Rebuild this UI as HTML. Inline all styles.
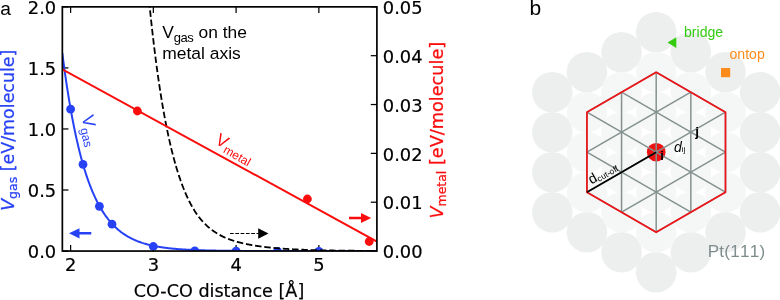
<!DOCTYPE html>
<html><head><meta charset="utf-8"><title>figure</title>
<style>
html,body{margin:0;padding:0;background:#fff;}
body{width:780px;height:300px;overflow:hidden;}
svg{display:block;}
.dv{font-family:"DejaVu Sans","Liberation Sans",sans-serif;font-size:17.1px;fill:#000;stroke:#000;stroke-width:0.2px;}
.dvl{font-family:"DejaVu Sans","Liberation Sans",sans-serif;font-size:16.5px;}
.ar{font-family:"Liberation Sans",Arial,Helvetica,sans-serif;}
</style></head><body>
<svg width="780" height="300" viewBox="0 0 780 300">
<rect width="780" height="300" fill="#fff"/>
<defs><clipPath id="ax"><rect x="62.35" y="6.85" width="314.54999999999995" height="244.20000000000002"/></clipPath></defs>
<line x1="70.6" y1="251.05" x2="70.6" y2="244.95000000000002" stroke="#000" stroke-width="1.25"/>
<line x1="70.6" y1="6.85" x2="70.6" y2="12.95" stroke="#000" stroke-width="1.25"/>
<text transform="translate(70.6,270.8) scale(1.045,1)" class="dv" text-anchor="middle">2</text>
<line x1="153.35" y1="251.05" x2="153.35" y2="244.95000000000002" stroke="#000" stroke-width="1.25"/>
<line x1="153.35" y1="6.85" x2="153.35" y2="12.95" stroke="#000" stroke-width="1.25"/>
<text transform="translate(153.35,270.8) scale(1.045,1)" class="dv" text-anchor="middle">3</text>
<line x1="236.1" y1="251.05" x2="236.1" y2="244.95000000000002" stroke="#000" stroke-width="1.25"/>
<line x1="236.1" y1="6.85" x2="236.1" y2="12.95" stroke="#000" stroke-width="1.25"/>
<text transform="translate(236.1,270.8) scale(1.045,1)" class="dv" text-anchor="middle">4</text>
<line x1="318.85" y1="251.05" x2="318.85" y2="244.95000000000002" stroke="#000" stroke-width="1.25"/>
<line x1="318.85" y1="6.85" x2="318.85" y2="12.95" stroke="#000" stroke-width="1.25"/>
<text transform="translate(318.85,270.8) scale(1.045,1)" class="dv" text-anchor="middle">5</text>
<line x1="62.35" y1="251.05" x2="68.45" y2="251.05" stroke="#000" stroke-width="1.25"/>
<text transform="translate(56.2,258.25) scale(1.045,1)" class="dv" text-anchor="end">0.0</text>
<line x1="62.35" y1="190.00" x2="68.45" y2="190.00" stroke="#000" stroke-width="1.25"/>
<text transform="translate(56.2,197.20) scale(1.045,1)" class="dv" text-anchor="end">0.5</text>
<line x1="62.35" y1="128.95" x2="68.45" y2="128.95" stroke="#000" stroke-width="1.25"/>
<text transform="translate(56.2,136.15) scale(1.045,1)" class="dv" text-anchor="end">1.0</text>
<line x1="62.35" y1="67.90" x2="68.45" y2="67.90" stroke="#000" stroke-width="1.25"/>
<text transform="translate(56.2,75.10) scale(1.045,1)" class="dv" text-anchor="end">1.5</text>
<line x1="62.35" y1="6.85" x2="68.45" y2="6.85" stroke="#000" stroke-width="1.25"/>
<text transform="translate(56.2,14.05) scale(1.045,1)" class="dv" text-anchor="end">2.0</text>
<line x1="376.9" y1="251.05" x2="370.79999999999995" y2="251.05" stroke="#000" stroke-width="1.25"/>
<text transform="translate(382.8,258.25) scale(1.045,1)" class="dv" text-anchor="start">0.00</text>
<line x1="376.9" y1="202.21" x2="370.79999999999995" y2="202.21" stroke="#000" stroke-width="1.25"/>
<text transform="translate(382.8,209.41) scale(1.045,1)" class="dv" text-anchor="start">0.01</text>
<line x1="376.9" y1="153.37" x2="370.79999999999995" y2="153.37" stroke="#000" stroke-width="1.25"/>
<text transform="translate(382.8,160.57) scale(1.045,1)" class="dv" text-anchor="start">0.02</text>
<line x1="376.9" y1="104.53" x2="370.79999999999995" y2="104.53" stroke="#000" stroke-width="1.25"/>
<text transform="translate(382.8,111.73) scale(1.045,1)" class="dv" text-anchor="start">0.03</text>
<line x1="376.9" y1="55.69" x2="370.79999999999995" y2="55.69" stroke="#000" stroke-width="1.25"/>
<text transform="translate(382.8,62.89) scale(1.045,1)" class="dv" text-anchor="start">0.04</text>
<line x1="376.9" y1="6.85" x2="370.79999999999995" y2="6.85" stroke="#000" stroke-width="1.25"/>
<text transform="translate(382.8,14.05) scale(1.045,1)" class="dv" text-anchor="start">0.05</text>
<g clip-path="url(#ax)">
<polyline points="62.32,53.19 63.12,59.33 63.91,65.28 64.70,71.04 65.49,76.62 66.28,82.04 67.07,87.28 67.86,92.36 68.65,97.28 69.44,102.05 70.23,106.68 71.02,111.15 71.81,115.49 72.60,119.70 73.39,123.77 74.18,127.72 74.97,131.55 75.76,135.26 76.55,138.85 77.34,142.33 78.13,145.70 78.92,148.97 79.71,152.14 80.50,155.21 81.29,158.18 82.08,161.06 82.87,163.85 83.66,166.56 84.45,169.18 85.24,171.72 86.03,174.18 86.82,176.57 87.61,178.88 88.40,181.11 89.19,183.28 89.98,185.39 90.77,187.42 91.56,189.40 92.35,191.31 93.15,193.16 93.94,194.96 94.73,196.70 95.52,198.39 96.31,200.02 97.10,201.60 97.89,203.14 98.68,204.62 99.47,206.06 100.26,207.46 101.05,208.81 101.84,210.12 102.63,211.39 103.42,212.62 104.21,213.81 105.00,214.97 105.79,216.09 106.58,217.17 107.37,218.22 108.16,219.24 108.95,220.23 109.74,221.19 110.53,222.11 111.32,223.01 112.11,223.88 112.90,224.72 113.69,225.54 114.48,226.33 115.27,227.10 116.06,227.84 116.85,228.56 117.64,229.26 118.43,229.93 119.22,230.59 120.01,231.22 120.80,231.84 121.59,232.44 122.38,233.01 123.18,233.57 123.97,234.11 124.76,234.64 125.55,235.15 126.34,235.64 127.13,236.12 127.92,236.58 128.71,237.03 129.50,237.47 130.29,237.89 131.08,238.30 131.87,238.69 132.66,239.08 133.45,239.45 134.24,239.81 135.03,240.16 135.82,240.49 136.61,240.82 137.40,241.14 138.19,241.45 138.98,241.74 139.77,242.03 140.56,242.31 141.35,242.58 142.14,242.85 142.93,243.10 143.72,243.35 144.51,243.59 145.30,243.82 146.09,244.04 146.88,244.26 147.67,244.47 148.46,244.67 149.25,244.87 150.04,245.06 150.83,245.25 151.62,245.43 152.41,245.60 153.21,245.77 154.00,245.94 154.79,246.10 155.58,246.25 156.37,246.40 157.16,246.54 157.95,246.68 158.74,246.82 159.53,246.95 160.32,247.08 161.11,247.20 161.90,247.32 162.69,247.43 163.48,247.55 164.27,247.66 165.06,247.76 165.85,247.86 166.64,247.96 167.43,248.06 168.22,248.15 169.01,248.24 169.80,248.33 170.59,248.41 171.38,248.49 172.17,248.57 172.96,248.65 173.75,248.72 174.54,248.80 175.33,248.87 176.12,248.93 176.91,249.00 177.70,249.06 178.49,249.13 179.28,249.18 180.07,249.24 180.86,249.30 181.65,249.35 182.44,249.41 183.24,249.46 184.03,249.51 184.82,249.55 185.61,249.60 186.40,249.65 187.19,249.69 187.98,249.73 188.77,249.77 189.56,249.81 190.35,249.85 191.14,249.89 191.93,249.92 192.72,249.96 193.51,249.99 194.30,250.03 195.09,250.06 195.88,250.09 196.67,250.12 197.46,250.15 198.25,250.17 199.04,250.20 199.83,250.23 200.62,250.25 201.41,250.28 202.20,250.30 202.99,250.33 203.78,250.35 204.57,250.37 205.36,250.39 206.15,250.41 206.94,250.43 207.73,250.45 208.52,250.47 209.31,250.49 210.10,250.50 210.89,250.52 211.68,250.54 212.47,250.55 213.27,250.57 214.06,250.58 214.85,250.60 215.64,250.61 216.43,250.63 217.22,250.64 218.01,250.65 218.80,250.66 219.59,250.68 220.38,250.69 221.17,250.70 221.96,250.71 222.75,250.72 223.54,250.73 224.33,250.74 225.12,250.75 225.91,250.76 226.70,250.77 227.49,250.78 228.28,250.79 229.07,250.79 229.86,250.80 230.65,250.81 231.44,250.82 232.23,250.82 233.02,250.83 233.81,250.84 234.60,250.84 235.39,250.85 236.18,250.86 236.97,250.86 237.76,250.87 238.55,250.87 239.34,250.88 240.13,250.89 240.92,250.89 241.71,250.90 242.50,250.90 243.30,250.90 244.09,250.91 244.88,250.91 245.67,250.92 246.46,250.92 247.25,250.93 248.04,250.93 248.83,250.93 249.62,250.94 250.41,250.94 251.20,250.94 251.99,250.95 252.78,250.95 253.57,250.95 254.36,250.96 255.15,250.96 255.94,250.96 256.73,250.97 257.52,250.97 258.31,250.97 259.10,250.97 259.89,250.98 260.68,250.98 261.47,250.98 262.26,250.98 263.05,250.98 263.84,250.99 264.63,250.99 265.42,250.99 266.21,250.99 267.00,250.99 267.79,251.00 268.58,251.00 269.37,251.00 270.16,251.00 270.95,251.00 271.74,251.00 272.53,251.00 273.33,251.01 274.12,251.01 274.91,251.01 275.70,251.01 276.49,251.01 277.28,251.01 278.07,251.01 278.86,251.01 279.65,251.02 280.44,251.02 281.23,251.02 282.02,251.02 282.81,251.02 283.60,251.02 284.39,251.02 285.18,251.02 285.97,251.02 286.76,251.02 287.55,251.03 288.34,251.03 289.13,251.03 289.92,251.03 290.71,251.03 291.50,251.03 292.29,251.03 293.08,251.03 293.87,251.03 294.66,251.03 295.45,251.03 296.24,251.03 297.03,251.03 297.82,251.03 298.61,251.03 299.40,251.03 300.19,251.03 300.98,251.04 301.77,251.04 302.56,251.04 303.36,251.04 304.15,251.04 304.94,251.04 305.73,251.04 306.52,251.04 307.31,251.04 308.10,251.04 308.89,251.04 309.68,251.04 310.47,251.04 311.26,251.04 312.05,251.04 312.84,251.04 313.63,251.04 314.42,251.04 315.21,251.04 316.00,251.04 316.79,251.04 317.58,251.04 318.37,251.04 319.16,251.04 319.95,251.04 320.74,251.04 321.53,251.04 322.32,251.04 323.11,251.04 323.90,251.04 324.69,251.04 325.48,251.04 326.27,251.04 327.06,251.04 327.85,251.05 328.64,251.05 329.43,251.05 330.22,251.05 331.01,251.05 331.80,251.05 332.59,251.05 333.39,251.05 334.18,251.05 334.97,251.05 335.76,251.05 336.55,251.05 337.34,251.05 338.13,251.05 338.92,251.05 339.71,251.05 340.50,251.05 341.29,251.05 342.08,251.05 342.87,251.05 343.66,251.05 344.45,251.05 345.24,251.05 346.03,251.05 346.82,251.05 347.61,251.05 348.40,251.05 349.19,251.05 349.98,251.05 350.77,251.05 351.56,251.05 352.35,251.05 353.14,251.05 353.93,251.05 354.72,251.05 355.51,251.05 356.30,251.05 357.09,251.05 357.88,251.05 358.67,251.05 359.46,251.05 360.25,251.05 361.04,251.05 361.83,251.05 362.62,251.05 363.42,251.05 364.21,251.05 365.00,251.05 365.79,251.05 366.58,251.05 367.37,251.05 368.16,251.05 368.95,251.05 369.74,251.05 370.53,251.05 371.32,251.05 372.11,251.05 372.90,251.05 373.69,251.05 374.48,251.05 375.27,251.05 376.06,251.05 376.85,251.05 377.64,251.05 378.43,251.05" fill="none" stroke="#2742f5" stroke-width="2" stroke-linejoin="round"/>
<circle cx="70.6" cy="109.2" r="4.4" fill="#2742f5"/>
<circle cx="83" cy="164.4" r="4.4" fill="#2742f5"/>
<circle cx="99.4" cy="206.3" r="4.4" fill="#2742f5"/>
<circle cx="112" cy="224.2" r="4.4" fill="#2742f5"/>
<circle cx="153.3" cy="246.5" r="4.4" fill="#2742f5"/>
<circle cx="194.8" cy="250.8" r="4.4" fill="#2742f5"/>
<circle cx="236.1" cy="251.2" r="4.4" fill="#2742f5"/>
<circle cx="277.5" cy="251.4" r="4.4" fill="#2742f5"/>
<circle cx="318.9" cy="251.4" r="4.4" fill="#2742f5"/>
<polyline points="146.50,-26.68 147.00,-21.15 147.50,-15.73 148.00,-10.43 148.50,-5.22 149.00,-0.12 149.50,4.88 150.00,9.77 150.50,14.58 151.00,19.28 151.50,23.89 152.00,28.41 152.50,32.84 153.00,37.19 153.50,41.44 154.00,45.61 154.50,49.70 155.00,53.71 155.50,57.63 156.00,61.48 156.50,65.26 157.00,68.95 157.50,72.58 158.00,76.13 158.50,79.61 159.00,83.02 159.50,86.36 160.00,89.64 160.50,92.85 161.00,96.00 161.50,99.09 162.00,102.11 162.50,105.07 163.00,107.98 163.50,110.83 164.00,113.62 164.50,116.35 165.00,119.03 165.50,121.66 166.00,124.23 166.50,126.76 167.00,129.23 167.50,131.65 168.00,134.03 168.50,136.36 169.00,138.64 169.50,140.88 170.00,143.07 170.50,145.22 171.00,147.33 171.50,149.39 172.00,151.41 172.50,153.40 173.00,155.34 173.50,157.24 174.00,159.11 174.50,160.94 175.00,162.73 175.50,164.49 176.00,166.21 176.50,167.90 177.00,169.56 177.50,171.18 178.00,172.77 178.50,174.32 179.00,175.85 179.50,177.35 180.00,178.81 180.50,180.25 181.00,181.66 181.50,183.04 182.00,184.39 182.50,185.72 183.00,187.02 183.50,188.29 184.00,189.54 184.50,190.77 185.00,191.97 185.50,193.14 186.00,194.30 186.50,195.42 187.00,196.53 187.50,197.62 188.00,198.68 188.50,199.72 189.00,200.74 189.50,201.74 190.00,202.72 190.50,203.68 191.00,204.62 191.50,205.54 192.00,206.43 192.50,207.31 193.00,208.17 193.50,209.00 194.00,209.82 194.50,210.62 195.00,211.41 195.50,212.17 196.00,212.92 196.50,213.65 197.00,214.37 197.50,215.07 198.00,215.76 198.50,216.43 199.00,217.09 199.50,217.73 200.00,218.36 200.50,218.97 201.00,219.57 201.50,220.16 202.00,220.74 202.50,221.30 203.00,221.85 203.50,222.39 204.00,222.92 204.50,223.44 205.00,223.94 205.50,224.44 206.00,224.92 206.50,225.40 207.00,225.86 207.50,226.32 208.00,226.77 208.50,227.20 209.00,227.63 209.50,228.05 210.00,228.46 210.50,228.86 211.00,229.25 211.50,229.64 212.00,230.01 212.50,230.38 213.00,230.74 213.50,231.10 214.00,231.45 214.50,231.79 215.00,232.12 215.50,232.45 216.00,232.77 216.50,233.08 217.00,233.39 217.50,233.69 218.00,233.98 218.50,234.27 219.00,234.55 219.50,234.83 220.00,235.10 220.50,235.37 221.00,235.63 221.50,235.89 222.00,236.14 222.50,236.38 223.00,236.63 223.50,236.86 224.00,237.09 224.50,237.32 225.00,237.55 225.50,237.76 226.00,237.98 226.50,238.19 227.00,238.40 227.50,238.60 228.00,238.80 228.50,238.99 229.00,239.18 229.50,239.37 230.00,239.55 230.50,239.73 231.00,239.91 231.50,240.08 232.00,240.25 232.50,240.42 233.00,240.58 233.50,240.75 234.00,240.90 234.50,241.06 235.00,241.21 235.50,241.36 236.00,241.51 236.50,241.65 237.00,241.79 237.50,241.93 238.00,242.06 238.50,242.20 239.00,242.33 239.50,242.46 240.00,242.58 240.50,242.71 241.00,242.83 241.50,242.95 242.00,243.07 242.50,243.19 243.00,243.30 243.50,243.42 244.00,243.53 244.50,243.64 245.00,243.75 245.50,243.86 246.00,243.96 246.50,244.07 247.00,244.17 247.50,244.27 248.00,244.37 248.50,244.47 249.00,244.56 249.50,244.66 250.00,244.75 250.50,244.85 251.00,244.94 251.50,245.03 252.00,245.11 252.50,245.20 253.00,245.29 253.50,245.37 254.00,245.46 254.50,245.54 255.00,245.62 255.50,245.70 256.00,245.78 256.50,245.85 257.00,245.93 257.50,246.01 258.00,246.08 258.50,246.15 259.00,246.23 259.50,246.30 260.00,246.37 260.50,246.43 261.00,246.50 261.50,246.57 262.00,246.64 262.50,246.70 263.00,246.76 263.50,246.83 264.00,246.89 264.50,246.95 265.00,247.01 265.50,247.07 266.00,247.13 266.50,247.19 267.00,247.24 267.50,247.30 268.00,247.35 268.50,247.41 269.00,247.46 269.50,247.51 270.00,247.57 270.50,247.62 271.00,247.67 271.50,247.72 272.00,247.77 272.50,247.81 273.00,247.86 273.50,247.91 274.00,247.96 274.50,248.00 275.00,248.05 275.50,248.09 276.00,248.13 276.50,248.18 277.00,248.22 277.50,248.26 278.00,248.30 278.50,248.34 279.00,248.38 279.50,248.42 280.00,248.46 280.50,248.50 281.00,248.53 281.50,248.57 282.00,248.61 282.50,248.64 283.00,248.68 283.50,248.71 284.00,248.75 284.50,248.78 285.00,248.82 285.50,248.85 286.00,248.88 286.50,248.91 287.00,248.94 287.50,248.97 288.00,249.01 288.50,249.04 289.00,249.06 289.50,249.09 290.00,249.12 290.50,249.15 291.00,249.18 291.50,249.21 292.00,249.23 292.50,249.26 293.00,249.29 293.50,249.31 294.00,249.34 294.50,249.36 295.00,249.39 295.50,249.41 296.00,249.44 296.50,249.46 297.00,249.48 297.50,249.51 298.00,249.53 298.50,249.55 299.00,249.57 299.50,249.60 300.00,249.62 300.50,249.64 301.00,249.66 301.50,249.68 302.00,249.70 302.50,249.72 303.00,249.74 303.50,249.76 304.00,249.78 304.50,249.80 305.00,249.81 305.50,249.83 306.00,249.85 306.50,249.87 307.00,249.88 307.50,249.90 308.00,249.92 308.50,249.94 309.00,249.95 309.50,249.97 310.00,249.98 310.50,250.00 311.00,250.01 311.50,250.03 312.00,250.05 312.50,250.06 313.00,250.07 313.50,250.09 314.00,250.10 314.50,250.12 315.00,250.13 315.50,250.14 316.00,250.16 316.50,250.17 317.00,250.18 317.50,250.20 318.00,250.21 318.50,250.22 319.00,250.23 319.50,250.25 320.00,250.26 320.50,250.27 321.00,250.28 321.50,250.29 322.00,250.30 322.50,250.31 323.00,250.32 323.50,250.34 324.00,250.35 324.50,250.36 325.00,250.37 325.50,250.38 326.00,250.39 326.50,250.40 327.00,250.41 327.50,250.41 328.00,250.42 328.50,250.43 329.00,250.44 329.50,250.45 330.00,250.46 330.50,250.47 331.00,250.48 331.50,250.49 332.00,250.49 332.50,250.50 333.00,250.51 333.50,250.52 334.00,250.53 334.50,250.53 335.00,250.54 335.50,250.55 336.00,250.56 336.50,250.56 337.00,250.57 337.50,250.58 338.00,250.58 338.50,250.59 339.00,250.60 339.50,250.60 340.00,250.61 340.50,250.62 341.00,250.62 341.50,250.63 342.00,250.64 342.50,250.64 343.00,250.65 343.50,250.65 344.00,250.66 344.50,250.67 345.00,250.67 345.50,250.68 346.00,250.68 346.50,250.69 347.00,250.69 347.50,250.70 348.00,250.70 348.50,250.71 349.00,250.71 349.50,250.72 350.00,250.72 350.50,250.73 351.00,250.73 351.50,250.74 352.00,250.74 352.50,250.75 353.00,250.75 353.50,250.76 354.00,250.76 354.50,250.76 355.00,250.77 355.50,250.77 356.00,250.78 356.50,250.78 357.00,250.78 357.50,250.79 358.00,250.79 358.50,250.80 359.00,250.80 359.50,250.80 360.00,250.81 360.50,250.81 361.00,250.81 361.50,250.82 362.00,250.82 362.50,250.82 363.00,250.83 363.50,250.83 364.00,250.83 364.50,250.84 365.00,250.84 365.50,250.84 366.00,250.85 366.50,250.85 367.00,250.85 367.50,250.86 368.00,250.86 368.50,250.86 369.00,250.86 369.50,250.87 370.00,250.87 370.50,250.87 371.00,250.87 371.50,250.88 372.00,250.88 372.50,250.88 373.00,250.88 373.50,250.89 374.00,250.89 374.50,250.89 375.00,250.89 375.50,250.90 376.00,250.90 376.50,250.90 377.00,250.90 377.50,250.91 378.00,250.91 378.50,250.91 379.00,250.91 379.50,250.91" fill="none" stroke="#000" stroke-width="1.8" stroke-dasharray="6.5 2.8" stroke-linejoin="round"/>
<line x1="62.35" y1="69.3" x2="376.9" y2="241.5" stroke="#fb0d0d" stroke-width="2"/>
<circle cx="137.4" cy="111" r="4.4" fill="#fb0d0d"/>
<circle cx="307.4" cy="199" r="4.4" fill="#fb0d0d"/>
<circle cx="369.2" cy="241.5" r="4.4" fill="#fb0d0d"/>
</g>
<rect x="62.35" y="6.85" width="314.54999999999995" height="244.20000000000002" fill="none" stroke="#000" stroke-width="1.7"/>
<text transform="translate(219,297.3) scale(1.017,1)" class="dvl" style="font-size:17.3px;stroke:#000;stroke-width:0.2px" text-anchor="middle">CO-CO distance [Å]</text>
<text transform="translate(13.5,130.2) rotate(-90) scale(1,1.02)" class="dvl" style="font-size:17.46px;stroke:#2742f5;stroke-width:0.25px" text-anchor="middle" fill="#2742f5"><tspan font-style="italic">V</tspan><tspan font-size="12.5" dy="3.3">gas</tspan><tspan dy="-3.3"> [eV/molecule]</tspan></text>
<text transform="translate(442.6,130.2) rotate(-90) scale(1,1.02)" class="dvl" style="font-size:17.7px;stroke:#fb0d0d;stroke-width:0.25px" text-anchor="middle" fill="#fb0d0d"><tspan font-style="italic">V</tspan><tspan font-size="12.5" dy="3.3">metal</tspan><tspan dy="-3.3"> [eV/molecule]</tspan></text>
<text x="0.2" y="14.8" class="ar" font-size="19.2">a</text>
<text x="529.4" y="14.8" class="ar" font-size="21">b</text>
<text transform="translate(162.2,37.5) scale(1.068,1)" class="ar" font-size="16.3">V<tspan font-size="12.2" dy="4.3" style="letter-spacing:-0.45px">gas</tspan><tspan dy="-4.3" dx="0.3"> on the</tspan></text>
<text transform="translate(162.2,59.1) scale(1.072,1)" class="ar" font-size="16.3">metal axis</text>
<text transform="translate(81.4,116.8) rotate(77)" class="ar" font-size="17.6" fill="#2742f5"><tspan>V</tspan><tspan font-size="12" dy="3.8">gas</tspan></text>
<text transform="translate(214.3,142.9) rotate(30)" class="ar" font-size="17.4" fill="#fb0d0d"><tspan>V</tspan><tspan font-size="12" dy="3.8">metal</tspan></text>
<path d="M69 233.3 L79.5 228.3 V232 H91.3 V234.6 H79.5 V238.5 Z" fill="#2742f5"/>
<path d="M371.2 218 L361 213 V216.7 H349 V219.3 H361 V223 Z" fill="#fb0d0d"/>
<line x1="230" y1="233.5" x2="258.5" y2="233.5" stroke="#000" stroke-width="1.2" stroke-dasharray="3.7 1.6"/>
<path d="M268.5 233.5 L258.2 228.3 V238.7 Z" fill="#000"/>
<circle cx="552.28" cy="92.20" r="20.3" fill="#edefee"/>
<circle cx="552.28" cy="132.20" r="20.3" fill="#edefee"/>
<circle cx="552.28" cy="172.20" r="20.3" fill="#edefee"/>
<circle cx="552.28" cy="212.20" r="20.3" fill="#edefee"/>
<circle cx="586.92" cy="72.20" r="20.3" fill="#edefee"/>
<circle cx="586.92" cy="232.20" r="20.3" fill="#edefee"/>
<circle cx="621.56" cy="52.20" r="20.3" fill="#edefee"/>
<circle cx="621.56" cy="252.20" r="20.3" fill="#edefee"/>
<circle cx="656.20" cy="32.20" r="20.3" fill="#edefee"/>
<circle cx="656.20" cy="272.20" r="20.3" fill="#edefee"/>
<circle cx="690.84" cy="52.20" r="20.3" fill="#edefee"/>
<circle cx="690.84" cy="252.20" r="20.3" fill="#edefee"/>
<circle cx="725.48" cy="72.20" r="20.3" fill="#edefee"/>
<circle cx="725.48" cy="232.20" r="20.3" fill="#edefee"/>
<circle cx="760.12" cy="92.20" r="20.3" fill="#edefee"/>
<circle cx="760.12" cy="132.20" r="20.3" fill="#edefee"/>
<circle cx="760.12" cy="172.20" r="20.3" fill="#edefee"/>
<circle cx="760.12" cy="212.20" r="20.3" fill="#edefee"/>
<circle cx="586.92" cy="112.20" r="20.3" fill="#f5f6f6"/>
<circle cx="586.92" cy="152.20" r="20.3" fill="#f5f6f6"/>
<circle cx="586.92" cy="192.20" r="20.3" fill="#f5f6f6"/>
<circle cx="621.56" cy="92.20" r="20.3" fill="#f5f6f6"/>
<circle cx="621.56" cy="212.20" r="20.3" fill="#f5f6f6"/>
<circle cx="656.20" cy="72.20" r="20.3" fill="#f5f6f6"/>
<circle cx="656.20" cy="232.20" r="20.3" fill="#f5f6f6"/>
<circle cx="690.84" cy="92.20" r="20.3" fill="#f5f6f6"/>
<circle cx="690.84" cy="212.20" r="20.3" fill="#f5f6f6"/>
<circle cx="725.48" cy="112.20" r="20.3" fill="#f5f6f6"/>
<circle cx="725.48" cy="152.20" r="20.3" fill="#f5f6f6"/>
<circle cx="725.48" cy="192.20" r="20.3" fill="#f5f6f6"/>
<circle cx="621.56" cy="132.20" r="20.3" fill="#f5f6f6"/>
<circle cx="621.56" cy="172.20" r="20.3" fill="#f5f6f6"/>
<circle cx="656.20" cy="112.20" r="20.3" fill="#f5f6f6"/>
<circle cx="656.20" cy="192.20" r="20.3" fill="#f5f6f6"/>
<circle cx="690.84" cy="132.20" r="20.3" fill="#f5f6f6"/>
<circle cx="690.84" cy="172.20" r="20.3" fill="#f5f6f6"/>
<circle cx="656.20" cy="152.20" r="20.3" fill="#f5f6f6"/>
<circle cx="656.2" cy="152.2" r="9.3" fill="#ee1111"/>
<line x1="586.92" y1="112.20" x2="586.92" y2="192.20" stroke="#84928f" stroke-width="1.5"/>
<line x1="621.56" y1="92.20" x2="621.56" y2="212.20" stroke="#84928f" stroke-width="1.5"/>
<line x1="656.20" y1="72.20" x2="656.20" y2="232.20" stroke="#84928f" stroke-width="1.5"/>
<line x1="690.84" y1="92.20" x2="690.84" y2="212.20" stroke="#84928f" stroke-width="1.5"/>
<line x1="725.48" y1="112.20" x2="725.48" y2="192.20" stroke="#84928f" stroke-width="1.5"/>
<line x1="656.20" y1="72.20" x2="725.48" y2="112.20" stroke="#84928f" stroke-width="1.5"/>
<line x1="621.56" y1="92.20" x2="725.48" y2="152.20" stroke="#84928f" stroke-width="1.5"/>
<line x1="586.92" y1="112.20" x2="725.48" y2="192.20" stroke="#84928f" stroke-width="1.5"/>
<line x1="586.92" y1="152.20" x2="690.84" y2="212.20" stroke="#84928f" stroke-width="1.5"/>
<line x1="586.92" y1="192.20" x2="656.20" y2="232.20" stroke="#84928f" stroke-width="1.5"/>
<line x1="656.20" y1="232.20" x2="725.48" y2="192.20" stroke="#84928f" stroke-width="1.5"/>
<line x1="621.56" y1="212.20" x2="725.48" y2="152.20" stroke="#84928f" stroke-width="1.5"/>
<line x1="586.92" y1="192.20" x2="725.48" y2="112.20" stroke="#84928f" stroke-width="1.5"/>
<line x1="586.92" y1="152.20" x2="690.84" y2="92.20" stroke="#84928f" stroke-width="1.5"/>
<line x1="586.92" y1="112.20" x2="656.20" y2="72.20" stroke="#84928f" stroke-width="1.5"/>
<polygon points="656.20,72.20 725.48,112.20 725.48,192.20 656.20,232.20 586.92,192.20 586.92,112.20" fill="none" stroke="#ee1418" stroke-width="1.7" stroke-linejoin="miter"/>
<line x1="656.2" y1="152.2" x2="586.92" y2="192.20" stroke="#000" stroke-width="1.6"/>
<text x="660.3" y="159.6" class="ar" font-size="13" font-weight="bold">i</text>
<text x="695.2" y="136" class="ar" font-size="13.5" font-weight="bold">j</text>
<text x="674" y="151.6" class="ar" font-size="14" font-style="italic">d<tspan font-size="8" font-style="normal" dy="0.6">ij</tspan></text>
<text transform="translate(591.5,184.5) rotate(-30)" class="ar" font-size="14">d<tspan font-size="8.4" dy="1.5">cut-off</tspan></text>
<path d="M667.5 42.6 L676.3 37.3 V47.9 Z" fill="#33cc11"/>
<text x="684" y="36.9" class="ar" font-size="14.1" fill="#33cc11">bridge</text>
<rect x="721" y="68" width="9.2" height="9.2" fill="#ff8c1a"/>
<text x="729.5" y="59.1" class="ar" font-size="14.1" fill="#ff8c1a">ontop</text>
<text x="707.7" y="256.8" class="ar" font-size="17.1" style="font-kerning:none;letter-spacing:0.25px" fill="#7f8c8d">Pt(111)</text>
</svg>
</body></html>
